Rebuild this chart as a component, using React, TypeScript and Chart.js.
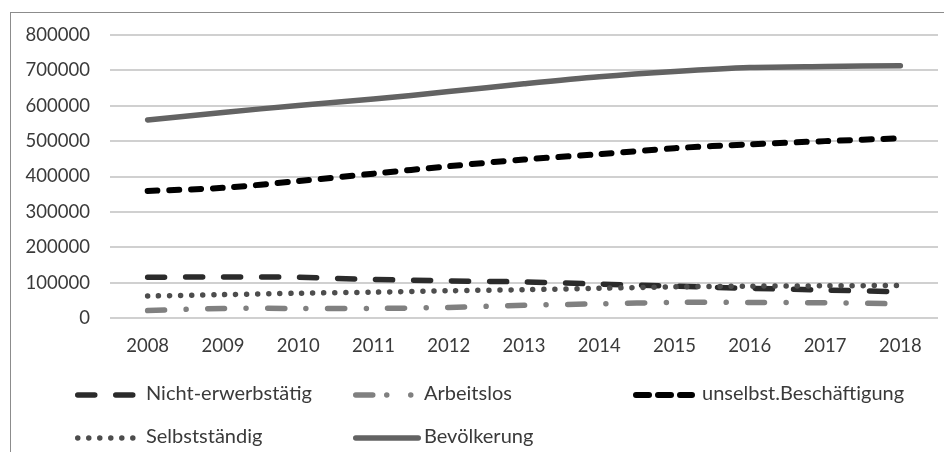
import React, { useEffect, useRef } from "react";
import { Chart, registerables } from "chart.js";

Chart.register(...registerables);

// Jahre (Kategorien der x-Achse)
const years = ["2008", "2009", "2010", "2011", "2012", "2013", "2014", "2015", "2016", "2017", "2018"];

// Reihenwerte
const nichtErwerbstaetig = [115000, 116000, 115000, 109000, 105000, 102000, 96000, 90000, 84000, 79000, 74000];
const arbeitslos = [21000, 27000, 27000, 27000, 30000, 36000, 40000, 44000, 44000, 43000, 40000];
const unselbstBeschaeftigung = [359000, 368000, 387000, 408000, 429000, 448000, 463000, 480000, 491000, 500000, 508000];
const selbststaendig = [62000, 66000, 70000, 73000, 77000, 80000, 84000, 88000, 90000, 91000, 92000];
const bevoelkerung = [560000, 581000, 601000, 619000, 640000, 662000, 682000, 697000, 708000, 711000, 713000];

// Reihennamen
const seriesNames = ["Nicht-erwerbstätig", "Arbeitslos", "unselbst.Beschäftigung", "Selbstständig", "Bevölkerung"];

// y-Achse
const yMin = 0;
const yMax = 800000;
const yStep = 100000;

const FONT_FAMILY = "Lato, 'Open Sans', sans-serif";
const AXIS_FONT_SIZE = 18.5;
const LEGEND_FONT_SIZE = 20;
const TEXT_COLOR = "#3a3a3a";

// Legende: drei Spalten, zwei Zeilen
const legendCols = [
  { sampleX: 75, sampleLen: 62, textX: 146 },
  { sampleX: 353, sampleLen: 68, textX: 424 },
  { sampleX: 633, sampleLen: 62, textX: 702 },
];
const legendRows = [395, 438];

const framePlugin = {
  id: "frame",
  beforeDraw(chart: any) {
    const ctx = chart.ctx;
    ctx.save();
    ctx.strokeStyle = "#8c8c8c";
    ctx.lineWidth = 1;
    ctx.strokeRect(10.5, 12.5, chart.width + 20, chart.height + 20);
    ctx.restore();
  },
};

const legendPlugin = {
  id: "excelLegend",
  afterDraw(chart: any) {
    const ctx = chart.ctx;
    const datasets = chart.data.datasets;
    datasets.forEach((ds: any, i: number) => {
      const col = legendCols[i % 3];
      const y = legendRows[Math.floor(i / 3)];
      const w = ds.borderWidth;
      ctx.save();
      ctx.strokeStyle = ds.borderColor;
      ctx.lineWidth = w;
      ctx.lineCap = "round";
      ctx.setLineDash(ds.legendDash || ds.borderDash || []);
      ctx.beginPath();
      ctx.moveTo(col.sampleX + w / 2, y);
      ctx.lineTo(col.sampleX + col.sampleLen - w / 2, y);
      ctx.stroke();
      ctx.restore();

      ctx.save();
      ctx.fillStyle = TEXT_COLOR;
      ctx.font = `${LEGEND_FONT_SIZE}px ${FONT_FAMILY}`;
      ctx.textBaseline = "middle";
      ctx.textAlign = "left";
      ctx.fillText(ds.label, col.textX, y - 1);
      ctx.restore();
    });
  },
};

export default function App() {
  const canvasRef = useRef<HTMLCanvasElement | null>(null);

  useEffect(() => {
    if (!canvasRef.current) return;
    const font = { family: FONT_FAMILY, size: AXIS_FONT_SIZE };
    const chart = new Chart(canvasRef.current, {
      type: "line",
      data: {
        labels: years,
        datasets: [
          {
            label: seriesNames[0],
            data: nichtErwerbstaetig,
            borderColor: "#2b2b2b",
            borderWidth: 5.5,
            borderDash: [17, 21],
            borderCapStyle: "round",
            order: 5,
          },
          {
            label: seriesNames[1],
            data: arbeitslos,
            borderColor: "#808080",
            borderWidth: 5.5,
            borderDash: [17, 21.5, 0.01, 21.5],
            legendDash: [17, 14, 0.01, 24, 0.01, 30],
            borderCapStyle: "round",
            order: 4,
          },
          {
            label: seriesNames[2],
            data: unselbstBeschaeftigung,
            borderColor: "#000000",
            borderWidth: 6,
            borderDash: [10, 11.7],
            legendDash: [13, 9],
            borderCapStyle: "round",
            order: 3,
          },
          {
            label: seriesNames[3],
            data: selbststaendig,
            borderColor: "#4d4d4d",
            borderWidth: 5.5,
            borderDash: [0.01, 11],
            borderCapStyle: "round",
            order: 2,
          },
          {
            label: seriesNames[4],
            data: bevoelkerung,
            borderColor: "#636363",
            borderWidth: 5.5,
            borderCapStyle: "round",
            order: 1,
          },
        ] as any,
      },
      options: {
        responsive: false,
        animation: false,
        events: [],
        elements: {
          point: { radius: 0, hoverRadius: 0 },
          line: { tension: 0.3, fill: false },
        },
        layout: { padding: { top: 35, right: 6, left: 0, bottom: 0 } },
        plugins: {
          legend: { display: false },
          tooltip: { enabled: false },
        },
        scales: {
          x: {
            offset: true,
            grid: { display: false, drawTicks: false },
            border: { display: false },
            ticks: { font, color: TEXT_COLOR, padding: 17, maxRotation: 0, autoSkip: false },
            afterFit: (s: any) => {
              s.height = 134;
            },
          },
          y: {
            min: yMin,
            max: yMax,
            grid: { color: "#d0d0d0", lineWidth: 2, drawTicks: false },
            border: { display: false },
            ticks: {
              stepSize: yStep,
              font,
              color: TEXT_COLOR,
              padding: 20,
              callback: (v: any) => String(v),
            },
            afterFit: (s: any) => {
              s.width = 110;
            },
          },
        },
      } as any,
      plugins: [framePlugin, legendPlugin],
    });
    return () => chart.destroy();
  }, []);

  return (
    <div style={{ position: "fixed", left: 0, top: 0, width: 944, height: 452, background: "#ffffff" }}>
      <canvas ref={canvasRef} width={944} height={452} style={{ display: "block" }} />
    </div>
  );
}
